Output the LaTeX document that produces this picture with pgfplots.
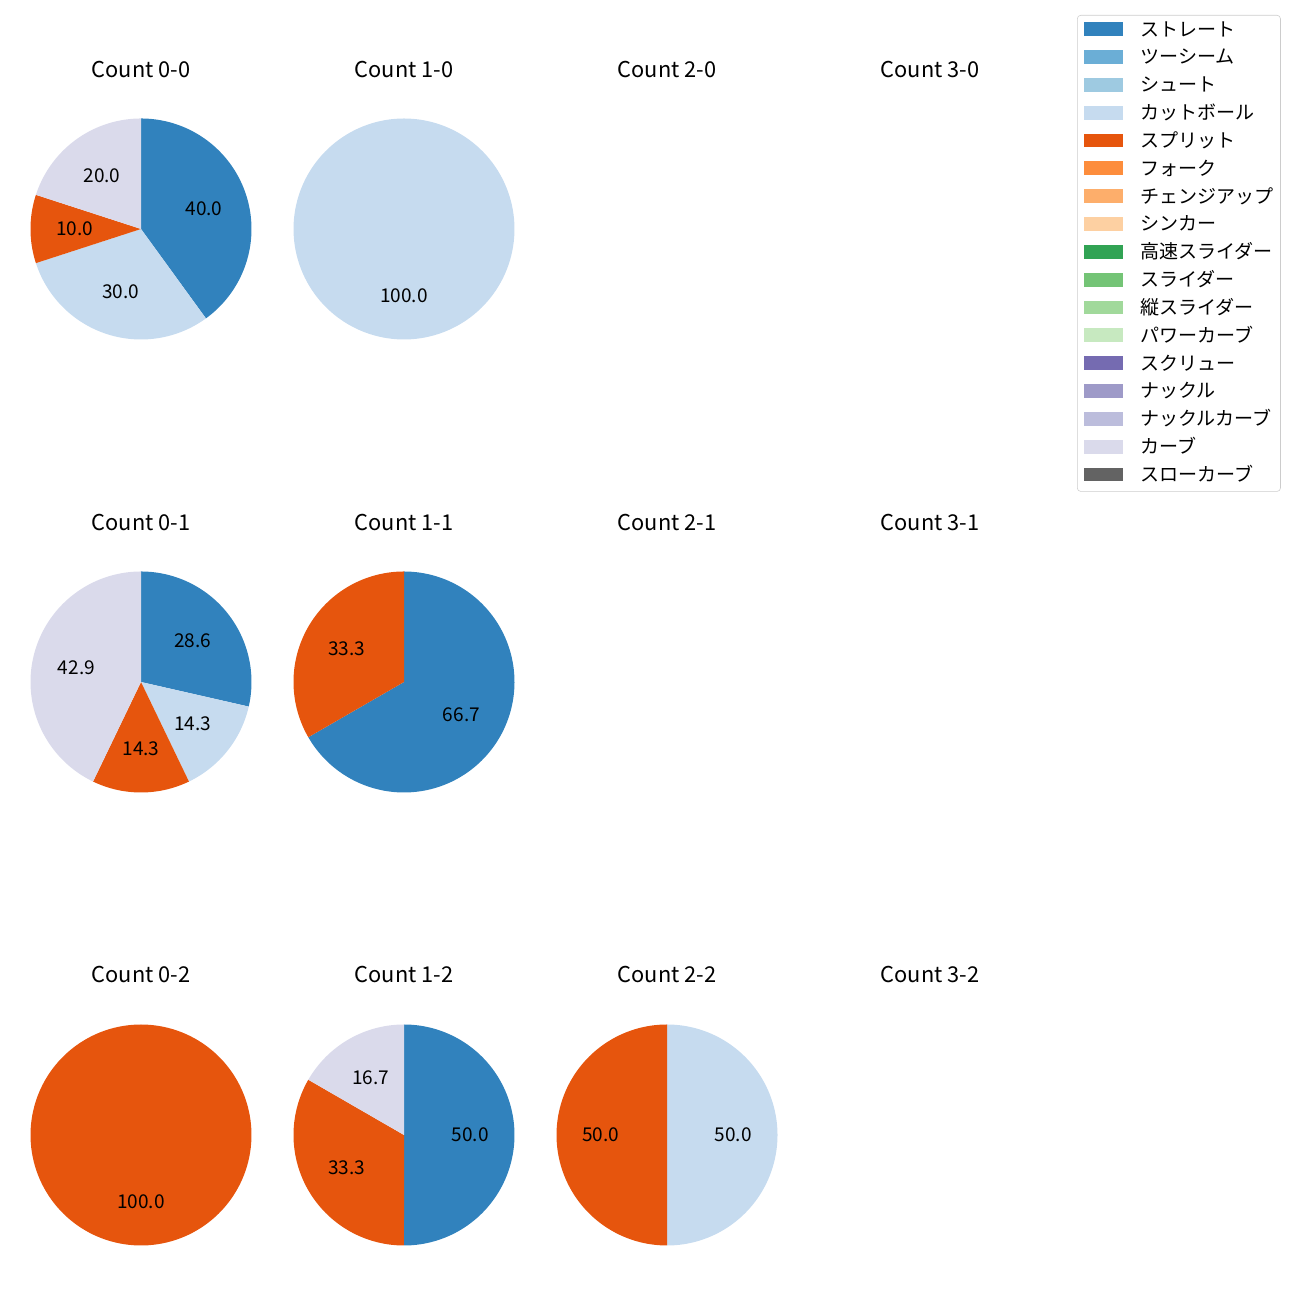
\documentclass[border=0pt]{standalone}
\usepackage{pgfplots}
\pgfplotsset{compat=1.18}
\usepackage{fontspec}
\setmainfont{Noto Sans CJK JP}
\definecolor{c1}{HTML}{3182BD}
\definecolor{c2}{HTML}{6BAED6}
\definecolor{c3}{HTML}{9ECAE1}
\definecolor{c4}{HTML}{C6DBEF}
\definecolor{c5}{HTML}{E6550D}
\definecolor{c6}{HTML}{FD8D3C}
\definecolor{c7}{HTML}{FDAE6B}
\definecolor{c8}{HTML}{FDD0A2}
\definecolor{c9}{HTML}{31A354}
\definecolor{c10}{HTML}{74C476}
\definecolor{c11}{HTML}{A1D99B}
\definecolor{c12}{HTML}{C7E9C0}
\definecolor{c13}{HTML}{756BB1}
\definecolor{c14}{HTML}{9E9AC8}
\definecolor{c15}{HTML}{BCBDDC}
\definecolor{c16}{HTML}{DADAEB}
\definecolor{c17}{HTML}{636363}
\newcommand{\lblfont}{\fontsize{13.7}{16}\selectfont}
\newcommand{\ttlfont}{\fontsize{15.7}{19}\selectfont}
% wedge: color, cumulative start %, cumulative end %, label
\newcommand{\wedgep}[4]{%
  \addplot[draw=none, fill=#1, domain={90-3.6*(#3)}:{90-3.6*(#2)}, samples=150] ({cos(x)},{sin(x)}) -- (axis cs:0,0) -- cycle;
  \node[font=\lblfont, inner sep=0pt] at (axis cs:{0.6*cos(90-1.8*((#2)+(#3)))},{0.6*sin(90-1.8*((#2)+(#3)))}) {#4};
}
\pgfplotsset{
  pie/.style={hide axis, scale only axis, width=159.12pt, height=159.12pt,
    xmin=-1, xmax=1, ymin=-1, ymax=1, clip=false, anchor=center},
}
\begin{document}
\begin{tikzpicture}
\path[use as bounding box] (0,0) rectangle (936pt,936pt);
% titles
\foreach \cx/\cy/\t in {101.52/879.84/0-0, 290.88/879.84/1-0, 480.24/879.84/2-0, 669.6/879.84/3-0,
  101.52/553.68/0-1, 290.88/553.68/1-1, 480.24/553.68/2-1, 669.6/553.68/3-1,
  101.52/228.24/0-2, 290.88/228.24/1-2, 480.24/228.24/2-2, 669.6/228.24/3-2}
  \node[font=\ttlfont, anchor=base, inner sep=0pt] at (\cx pt,\cy pt) {Count \t};
% Count 0-0
\begin{axis}[pie, at={(101.52pt,771.12pt)}]
\wedgep{c1}{0}{40}{40.0}
\wedgep{c4}{40}{70}{30.0}
\wedgep{c5}{70}{80}{10.0}
\wedgep{c16}{80}{100}{20.0}
\end{axis}
% Count 1-0
\begin{axis}[pie, at={(290.88pt,771.12pt)}]
\wedgep{c4}{0}{100}{100.0}
\end{axis}
% Count 0-1
\begin{axis}[pie, at={(101.52pt,444.96pt)}]
\wedgep{c1}{0}{28.571}{28.6}
\wedgep{c4}{28.571}{42.857}{14.3}
\wedgep{c5}{42.857}{57.143}{14.3}
\wedgep{c16}{57.143}{100}{42.9}
\end{axis}
% Count 1-1
\begin{axis}[pie, at={(290.88pt,444.96pt)}]
\wedgep{c1}{0}{66.667}{66.7}
\wedgep{c5}{66.667}{100}{33.3}
\end{axis}
% Count 0-2
\begin{axis}[pie, at={(101.52pt,118.8pt)}]
\wedgep{c5}{0}{100}{100.0}
\end{axis}
% Count 1-2
\begin{axis}[pie, at={(290.88pt,118.8pt)}]
\wedgep{c1}{0}{50}{50.0}
\wedgep{c5}{50}{83.333}{33.3}
\wedgep{c16}{83.333}{100}{16.7}
\end{axis}
% Count 2-2
\begin{axis}[pie, at={(480.24pt,118.8pt)}]
\wedgep{c4}{0}{50}{50.0}
\wedgep{c5}{50}{100}{50.0}
\end{axis}
% legend
\begin{axis}[hide axis, scale only axis, width=148pt, height=10pt,
  xmin=0, xmax=1, ymin=0, ymax=1,
  at={(775.44pt,925.2pt)}, anchor=north west,
  legend cell align=left,
  legend image code/.code={\fill[#1, draw=none, sharp corners] (0pt,0pt) rectangle (28pt,10pt); \path (40.2pt,0pt);},
  legend style={at={(0,1)}, anchor=north west, draw=black!20, fill=white,
    rounded corners=2.5pt, inner xsep=5pt, inner ysep=4.8pt, row sep=7.44pt,
    font=\lblfont,
    nodes={inner sep=0pt, text height=10.2pt, text depth=2.4pt, anchor=base west}},
]
\addlegendimage{fill=c1}\addlegendentry{ストレート\hspace{2pt}}
\addlegendimage{fill=c2}\addlegendentry{ツーシーム}
\addlegendimage{fill=c3}\addlegendentry{シュート}
\addlegendimage{fill=c4}\addlegendentry{カットボール}
\addlegendimage{fill=c5}\addlegendentry{スプリット}
\addlegendimage{fill=c6}\addlegendentry{フォーク}
\addlegendimage{fill=c7}\addlegendentry{チェンジアップ\hspace{2pt}}
\addlegendimage{fill=c8}\addlegendentry{シンカー}
\addlegendimage{fill=c9}\addlegendentry{高速スライダー}
\addlegendimage{fill=c10}\addlegendentry{スライダー}
\addlegendimage{fill=c11}\addlegendentry{縦スライダー}
\addlegendimage{fill=c12}\addlegendentry{パワーカーブ}
\addlegendimage{fill=c13}\addlegendentry{スクリュー}
\addlegendimage{fill=c14}\addlegendentry{ナックル}
\addlegendimage{fill=c15}\addlegendentry{ナックルカーブ}
\addlegendimage{fill=c16}\addlegendentry{カーブ}
\addlegendimage{fill=c17}\addlegendentry{スローカーブ}
\end{axis}
\end{tikzpicture}
\end{document}
